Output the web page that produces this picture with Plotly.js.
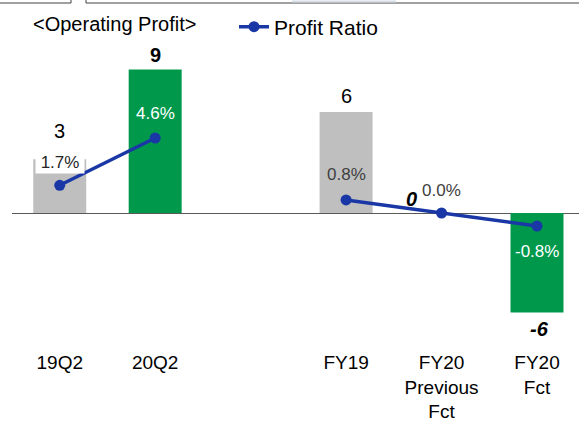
<!DOCTYPE html>
<html>
<head>
<meta charset="utf-8">
<script src="https://cdn.plot.ly/plotly-3.0.1.min.js"></script>
<style>html,body{margin:0;padding:0;background:#fff;}#chart{width:579px;height:421px;}</style>
</head>
<body>
<div id="chart"></div>
<script>
// ---- data ----
const categories = ["19Q2", "20Q2", "FY19", "FY20<br>Previous<br>Fct", "FY20<br>Fct"];
const slots = [0, 1, 3, 4, 5];                  // category slots (slot 2 is an empty gap)
const profit = [3.3, 8.8, 6.2, 0, -6.1];       // operating profit (bar height)
const profitLabels = ["3", "9", "6", "0", "-6"];
const ratio = [1.7, 4.6, 0.8, 0.0, -0.8];      // profit ratio, %
const ratioLabels = ["1.7%", "4.6%", "0.8%", "0.0%", "-0.8%"];
const groupA = [0, 1];       // indices of first line segment
const groupB = [2, 3, 4];    // indices of second line segment

// ---- styles ----
const GRAY = "#BFBFBF", GREEN = "#00994C", BLUE = "#1A37A6", TXT = "#262626";
const FONT = "Arial, 'Liberation Sans', sans-serif";
const barColors = [GRAY, GREEN, GRAY, GRAY, GREEN];

const W = 579, H = 421, ML = 12, MR = 0, MT = 0, MB = 76;
const PW = W - ML - MR, PH = H - MT - MB;
const yRange = [-8.10, 13.07];
const px = X => (X - ML) / PW;            // pixel -> paper x
const py = Y => 1 + (MT - Y) / PH;        // pixel -> paper y

const traces = [
  {
    type: "bar", x: slots, y: profit, width: 0.555,
    marker: {color: barColors, line: {width: 0}},
    showlegend: false, hoverinfo: "skip"
  },
  {
    type: "scatter", mode: "lines+markers", name: "Profit Ratio",
    x: groupA.map(i => slots[i]), y: groupA.map(i => ratio[i]), yaxis: "y2",
    line: {color: BLUE, width: 3.5}, marker: {color: BLUE, size: 11},
    legendgroup: "r", showlegend: true, cliponaxis: false
  },
  {
    type: "scatter", mode: "lines+markers", name: "Profit Ratio",
    x: groupB.map(i => slots[i]), y: groupB.map(i => ratio[i]), yaxis: "y2",
    line: {color: BLUE, width: 3.5}, marker: {color: BLUE, size: 11},
    legendgroup: "r", showlegend: false, cliponaxis: false
  }
];

// value labels (profit)
const profitStyle = [
  {dy: -28, bold: false, ital: false, dx: 0},
  {dy: -15, bold: true, ital: false, dx: 0},
  {dy: -16, bold: false, ital: false, dx: 0},
  {dy: -14, bold: true, ital: true, dx: -30},
  {dy: 17, bold: true, ital: true, dx: 2}
];
const annotations = [];
profit.forEach((v, i) => {
  const s = profitStyle[i];
  let t = profitLabels[i];
  if (s.ital) t = "<i>" + t + "</i>";
  if (s.bold) t = "<b>" + t + "</b>";
  annotations.push({
    x: slots[i], y: v, xref: "x", yref: "y", text: t, showarrow: false,
    xshift: s.dx, yshift: -s.dy, font: {family: FONT, size: 20, color: "#000"}
  });
});
// ratio labels
const ratioStyle = [
  {dy: -23, color: TXT, bg: "#FFFFFF", dx: 0},
  {dy: -25, color: "#FFFFFF", bg: null, dx: 0},
  {dy: -25, color: "#404040", bg: null, dx: 0},
  {dy: -23, color: "#404040", bg: null, dx: 0},
  {dy: 25, color: "#FFFFFF", bg: null, dx: 0}
];
ratio.forEach((v, i) => {
  const s = ratioStyle[i];
  const a = {
    x: slots[i], y: v, xref: "x", yref: "y2", text: ratioLabels[i], showarrow: false,
    xshift: s.dx, yshift: -s.dy, font: {family: FONT, size: 17, color: s.color}
  };
  if (s.bg) { a.bgcolor = s.bg; a.borderpad = 1; a.width = 46; }
  annotations.push(a);
});
annotations.push({
  xref: "paper", yref: "paper", x: px(31), y: py(24), xanchor: "left", yanchor: "middle",
  text: "&lt;Operating Profit&gt;", showarrow: false,
  font: {family: FONT, size: 20, color: "#000"}
});

const shapes = [
  {type: "line", xref: "paper", yref: "paper", x0: px(0), x1: px(71), y0: py(3), y1: py(3), line: {color: "#404040", width: 1}},
  {type: "line", xref: "paper", yref: "paper", x0: px(71), x1: px(71), y0: py(0), y1: py(3), line: {color: "#404040", width: 1}},
  {type: "line", xref: "paper", yref: "paper", x0: px(86), x1: px(579), y0: py(3), y1: py(3), line: {color: "#404040", width: 1}},
  {type: "line", xref: "paper", yref: "paper", x0: px(86), x1: px(86), y0: py(0), y1: py(3), line: {color: "#404040", width: 1}},
  {type: "line", xref: "paper", yref: "paper", x0: px(292), x1: px(396), y0: py(1.5), y1: py(1.5), line: {color: "#D6DCE5", width: 2}}
];

const layout = {
  width: W, height: H,
  margin: {l: ML, r: MR, t: MT, b: MB, pad: 0},
  paper_bgcolor: "#FFFFFF", plot_bgcolor: "#FFFFFF",
  showlegend: true,
  legend: {
    orientation: "h", x: px(234), y: py(27), xanchor: "left", yanchor: "middle",
    font: {family: FONT, size: 21, color: "#000"}, bgcolor: "rgba(0,0,0,0)"
  },
  xaxis: {
    range: [-0.5, 5.44], tickvals: slots, ticktext: categories,
    showgrid: false, zeroline: false, showline: false, ticks: "",
    ticklabelstandoff: 4,
    tickfont: {family: FONT, size: 19, color: "#000"}, fixedrange: true
  },
  yaxis: {
    range: yRange, showgrid: false, showticklabels: false, ticks: "",
    zeroline: true, zerolinecolor: "#595959", zerolinewidth: 1, showline: false
  },
  yaxis2: {
    range: yRange, overlaying: "y", side: "right", showgrid: false,
    showticklabels: false, ticks: "", zeroline: false, showline: false
  },
  annotations: annotations,
  shapes: shapes
};

Plotly.newPlot("chart", traces, layout, {displayModeBar: false, staticPlot: true});
</script>
</body>
</html>
